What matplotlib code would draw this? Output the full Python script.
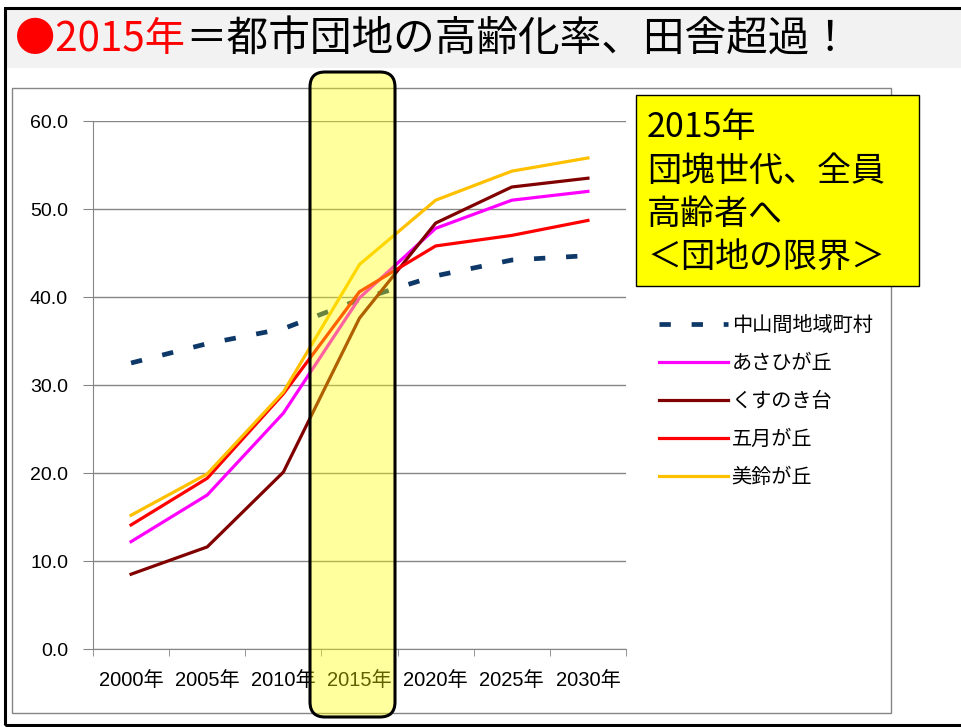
import matplotlib.pyplot as plt
from matplotlib.patches import Rectangle, FancyBboxPatch

# data (percent of population aged 65+)
years = ['2000年', '2005年', '2010年', '2015年', '2020年', '2025年', '2030年']
chusankan = [32.5, 34.7, 36.4, 39.7, 42.4, 44.2, 44.7]
asahigaoka = [12.2, 17.5, 26.8, 39.9, 47.8, 51.0, 52.0]
kusunokidai = [8.5, 11.6, 20.1, 37.6, 48.4, 52.5, 53.5]
satsukigaoka = [14.1, 19.4, 29.0, 40.6, 45.8, 47.0, 48.7]
misuzugaoka = [15.2, 19.9, 29.2, 43.7, 51.0, 54.3, 55.8]
labels = ['中山間地域町村', 'あさひが丘', 'くすのき台', '五月が丘', '美鈴が丘']
yticks = [0, 10, 20, 30, 40, 50, 60]

W, H = 961, 727
JP = ['Noto Sans CJK JP', 'DejaVu Sans']
NUM = ['Liberation Sans', 'Noto Sans CJK JP']


def inch_box(x0, y0, x1, y1):
    # pixel box (top-left origin) -> inches from bottom-left
    return x0 / 100, (H - y1) / 100, (x1 - x0) / 100, (y1 - y0) / 100


fig = plt.figure(figsize=(W / 100, H / 100), dpi=100)
fig.patch.set_facecolor('white')
tr = fig.dpi_scale_trans

# title band and slide frame
x, y, w, h = inch_box(5, 8, 965, 68)
fig.add_artist(Rectangle((x, y), w, h, transform=tr, facecolor='#f2f2f2',
                         edgecolor='none', zorder=-3))
x, y, w, h = inch_box(5, 8, 965, 725)
fig.add_artist(Rectangle((x, y), w, h, transform=tr, facecolor='none',
                         edgecolor='black', lw=2.2, zorder=5))
# chart area
x, y, w, h = inch_box(12, 88, 891, 713)
fig.add_artist(Rectangle((x, y), w, h, transform=tr, facecolor='white',
                         edgecolor='#868686', lw=1, zorder=-2))

# title
t1 = fig.text(15 / W, 1 - 40 / H, '●2015年', color='red', fontsize=29,
              family=JP, va='center', ha='left')

ax = fig.add_axes([93 / W, 1 - 649 / H, (626 - 93) / W, (649 - 121) / H])
ax.set_facecolor('none')
ax.annotate('＝都市団地の高齢化率、田舎超過！', xy=(1, 0.5), xycoords=t1,
            va='center', ha='left', fontsize=30, family=JP, color='black',
            annotation_clip=False)

xs = range(len(years))
ax.plot(xs, chusankan, color='#0d3868', lw=3.4, dashes=(2.4, 4.4),
        label=labels[0])
ax.plot(xs, asahigaoka, color='#ff00ff', lw=2.3, label=labels[1])
ax.plot(xs, kusunokidai, color='#800000', lw=2.3, label=labels[2])
ax.plot(xs, satsukigaoka, color='#ff0000', lw=2.3, label=labels[3])
ax.plot(xs, misuzugaoka, color='#ffc000', lw=2.3, label=labels[4])

ax.set_xlim(-0.5, len(years) - 0.5)
ax.set_ylim(0, 60)
ax.set_yticks(yticks)
ax.set_yticklabels([f'{v:.1f}' for v in yticks], family=NUM, fontsize=14)
ax.tick_params(axis='y', length=7, color='#868686', pad=11)
ax.set_xticks(list(xs))
ax.set_xticklabels(years, family=NUM, fontsize=14.5)
ax.set_xticks([i - 0.5 for i in range(len(years) + 1)], minor=True)
ax.tick_params(axis='x', which='major', length=0, pad=16)
ax.tick_params(axis='x', which='minor', length=5, color='#868686')
ax.grid(axis='y', color='#868686', lw=1)
ax.set_axisbelow(True)
for s in ['top', 'right']:
    ax.spines[s].set_visible(False)
for s in ['left', 'bottom']:
    ax.spines[s].set_color('#868686')

# legend
handles, lbls = ax.get_legend_handles_labels()
fig.legend(handles, lbls, loc='upper left',
           bbox_to_anchor=(641 / W, 1 - 297 / H), frameon=False,
           prop={'family': JP, 'size': 14.5}, handlelength=3.4,
           handletextpad=0.2, labelspacing=0.84)

# 2015 highlight
x, y, w, h = inch_box(310, 72, 395, 717)
fig.add_artist(FancyBboxPatch((x, y), w, h, transform=tr,
                              boxstyle='round,pad=0,rounding_size=0.15',
                              facecolor=(1, 1, 0, 0.38), edgecolor='black',
                              lw=2.2, zorder=3))

# note box
x, y, w, h = inch_box(636, 95, 919, 286)
fig.add_artist(Rectangle((x, y), w, h, transform=tr, facecolor='#ffff00',
                         edgecolor='black', lw=1, zorder=4))
fig.text(647 / W, 1 - 110 / H, '2015年\n団塊世代、全員\n高齢者へ\n＜団地の限界＞',
         fontsize=24.5, family=JP, va='top', ha='left', linespacing=1.32,
         zorder=6)

fig.savefig('out.png', dpi=100)
